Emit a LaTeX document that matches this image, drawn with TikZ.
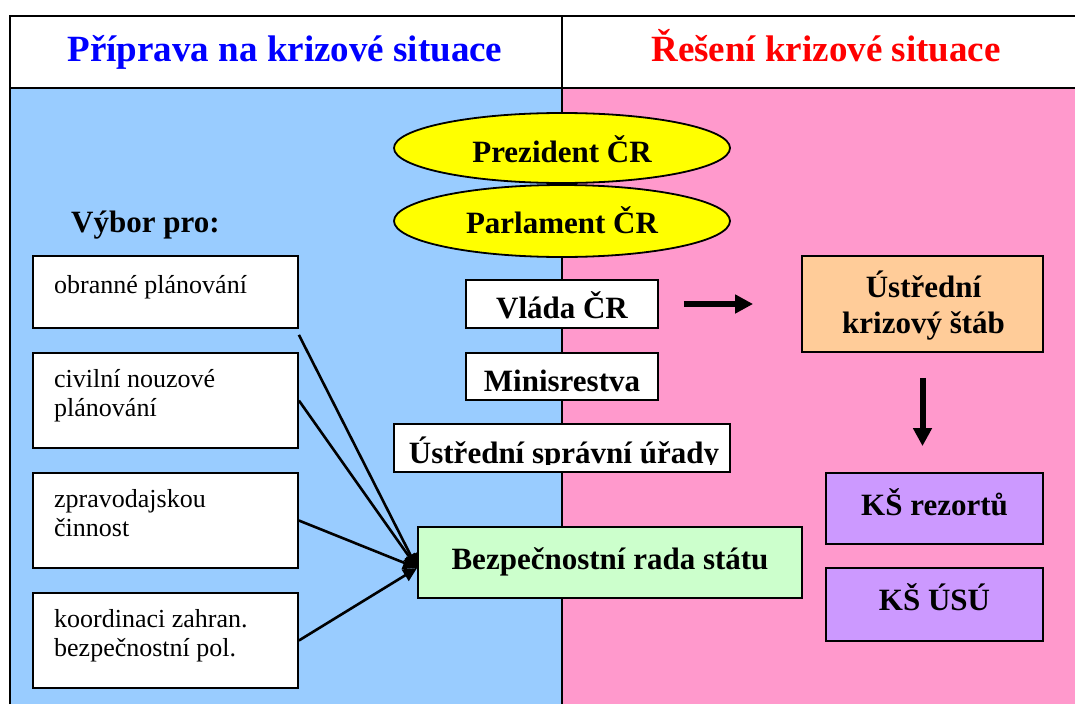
\documentclass[tikz,border=0pt]{standalone}
\usepackage{fontspec}
\setmainfont{Liberation Serif}
\usetikzlibrary{shapes.geometric,arrows.meta}
\definecolor{bgblue}{HTML}{99CCFF}
\definecolor{bgpink}{HTML}{FF99CC}
\definecolor{ellyel}{HTML}{FFFF00}
\definecolor{peach}{HTML}{FFCC99}
\definecolor{lav}{HTML}{CC99FF}
\definecolor{mint}{HTML}{CCFFCC}
\definecolor{hblue}{HTML}{0000FF}
\definecolor{hred}{HTML}{FF0000}
\newcommand{\bigbf}{\fontsize{31}{36}\selectfont\bfseries}
\newcommand{\smallrm}{\fontsize{26}{29.5}\selectfont}
\newcommand{\headbf}{\fontsize{37}{42}\selectfont\bfseries}
\begin{document}
\begin{tikzpicture}[x=1pt,y=-1pt,
  frame/.style={line width=2pt, black},
  box/.style={draw=black, line width=1.8pt, inner sep=0pt, fill=white},
  oval/.style={ellipse, draw=black, line width=1.8pt, fill=ellyel, inner sep=0pt, minimum width=336pt, font=\bigbf, text depth=0pt},
  bigbox/.style={box, font=\bigbf, text depth=0pt},
  leftbox/.style={box, minimum width=265pt, minimum height=95pt},
  lefttxt/.style={font=\smallrm, align=left, anchor=north west, inner sep=0pt},
  feed/.style={line width=2.6pt, -{Triangle[length=14pt,width=13pt]}},
  thickarrow/.style={line width=6pt, -{Triangle[length=18pt,width=18pt]}}
]
\useasboundingbox (0,0) rectangle (1075,704);
\fill[white] (0,0) rectangle (1075,704);
\fill[bgblue] (10,88) rectangle (562,704);
\fill[bgpink] (562,88) rectangle (1075,704);
\draw[frame] (10,704) -- (10,16) -- (1075,16);
\draw[frame] (10,88) -- (1075,88);
\draw[frame] (562,16) -- (562,88);
\draw[line width=1.2pt] (562,88) -- (562,704);

% headers
\node[font=\headbf, text=hblue, anchor=base, inner sep=0pt] (hl) at (285,61) {Příprava na krizové situace};
\node[font=\headbf, text=hred, anchor=base, inner sep=0pt] (hr) at (826,61) {Řešení krizové situace};

% centre column
\node[oval, minimum height=70pt, text height=28pt] (prez) at (562,148) {Prezident ČR\hspace{22pt}};
\node[oval, minimum height=72pt, text height=24pt] (parl) at (562,221) {Parlament ČR\hspace{10pt}};
\node[bigbox, minimum width=192pt, minimum height=48pt, text height=28pt] (vlada) at (562,304) {Vláda ČR};
\node[bigbox, minimum width=192pt, minimum height=47pt, text height=29pt] (mini) at (562,376.5) {Minisrestva};
\node[box, minimum width=336pt, minimum height=48pt,
  path picture={
    \clip ([yshift=8pt]path picture bounding box.south west) rectangle (path picture bounding box.north east);
    \node[font=\bigbf, anchor=base, draw=none, fill=none, inner sep=0pt] at ([xshift=2pt,yshift=-15pt]path picture bounding box.center) {Ústřední správní úřady};
  }] (usu) at (562,448) {};
\node[bigbox, fill=mint, minimum width=384pt, minimum height=71pt, text height=13pt] (bezp) at (610,562.5) {Bezpečnostní rada státu\hspace{14pt}};

% right column
\node[box, fill=peach, minimum width=241pt, minimum height=96pt] (uks) at (922.5,304) {};
\node[font=\bigbf, align=center, anchor=north, inner sep=0pt] (uksT) at (923.5,267) {\rule{0pt}{30pt}Ústřední\\krizový štáb};
\node[bigbox, fill=lav, minimum width=217pt, minimum height=71pt, text height=13pt] (ksr) at (934.5,508.5) {KŠ rezortů};
\node[bigbox, fill=lav, minimum width=217pt, minimum height=73pt, text height=11pt] (ksu) at (934.5,604.5) {KŠ ÚSÚ};

\draw[thickarrow, shorten <=25pt, shorten >=48pt] (vlada.east) -- (uks.west);
\draw[thickarrow, shorten <=25pt, shorten >=26pt] (uks.south) -- (uks.south |- ksr.north);

% left column
\node[font=\bigbf, anchor=base west, inner sep=0pt] (vybor) at (71,232) {Výbor pro:};
\node[leftbox, minimum height=72pt] (ob) at (165.5,292) {};
\node[leftbox] (cn) at (165.5,400.5) {};
\node[leftbox] (zc) at (165.5,520.5) {};
\node[leftbox] (kz) at (165.5,640.5) {};
\node[lefttxt] (obT) at (54,269) {\rule{0pt}{24pt}obranné plánování};
\node[lefttxt] (cnT) at (54,363) {\rule{0pt}{24pt}civilní nouzové\\plánování};
\node[lefttxt] (zcT) at (54,483) {\rule{0pt}{24pt}zpravodajskou\\činnost};
\node[lefttxt] (kzT) at (54,603) {\rule{0pt}{24pt}koordinaci zahran.\\bezpečnostní pol.};

% connectors
\coordinate (tip) at ([yshift=-5.5pt]bezp.west);
\coordinate (obOut) at ([yshift=-6pt]ob.south east);
\draw[feed] (obOut) -- (tip);
\draw[feed] (cn.east) -- (tip);
\draw[feed] (zc.east) -- (tip);
\draw[feed] (kz.east) -- (tip);
\end{tikzpicture}
\end{document}
